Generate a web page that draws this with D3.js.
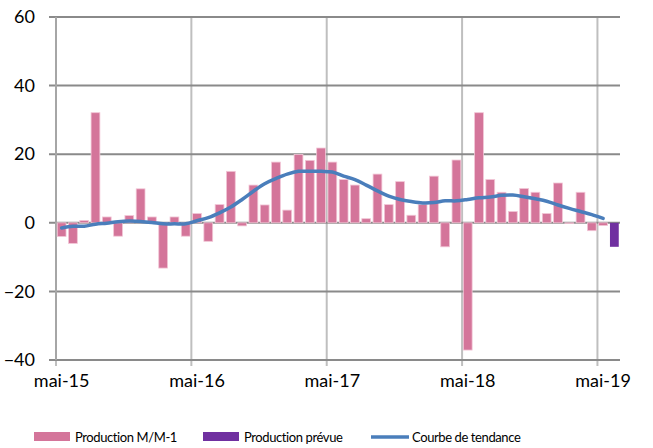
<!DOCTYPE html>
<html>
<head>
<meta charset="utf-8">
<script src="https://cdn.jsdelivr.net/npm/d3@7"></script>
<style>
  body { margin: 0; background: #fff; }
  text { font-family: Lato, "Open Sans", sans-serif; fill: #000; }
</style>
</head>
<body>
<svg id="chart"></svg>
<script>
const width = 653;
const height = 448;

// months from mai-15 to juin-19
const monthNames = ["janv", "févr", "mars", "avr", "mai", "juin", "juil", "août", "sept", "oct", "nov", "déc"];
const months = d3.range(50).map(i => {
  const m = (4 + i) % 12;
  const y = 15 + Math.floor((4 + i) / 12);
  return monthNames[m] + "-" + y;
});

// Production M/M-1 (mai-15 .. mai-19)
const production = [
  -4, -6, 0.7, 32.1, 1.7, -3.9, 2.1, 9.9, 1.7, -13.2, 1.7, -3.9,
  2.7, -5.4, 5.3, 15.0, -0.9, 11.0, 5.2, 17.7, 3.7, 19.9, 18.2, 21.8,
  17.7, 12.6, 11.0, 1.2, 14.2, 5.3, 12.0, 2.2, 5.3, 13.6, -7.0, 18.3,
  -37.1, 32.1, 12.6, 8.9, 3.3, 10.0, 8.9, 2.7, 11.6, -0.2, 8.9, -2.3,
  -0.8
];

// Production prévue (juin-19)
const forecast = [{ month: "juin-19", value: -7.0 }];

// Courbe de tendance
const trend = [
  -1.5, -1.0, -1.0, -0.4, -0.1, 0.3, 0.5, 0.4, 0.1, -0.3, -0.3, -0.3,
  0.6, 1.5, 2.9, 4.6, 6.8, 9.2, 11.4, 12.9, 14.2, 15.0, 15.0, 15.0,
  14.8, 13.6, 12.6, 11.0, 9.3, 7.8, 6.8, 6.2, 5.8, 5.9, 6.4, 6.4,
  6.8, 7.3, 7.5, 8.0, 8.1, 7.6, 7.0, 6.3, 5.2, 4.2, 3.3, 2.4,
  1.3
];

const yTicks = [-40, -20, 0, 20, 40, 60];
const xLabels = ["mai-15", "mai-16", "mai-17", "mai-18", "mai-19"];

const pink = "#d4759a";
const purple = "#7030a0";
const blue = "#4a7ebb";

const plot = { left: 56, right: 620, top: 17, bottom: 360 };

const svg = d3.select("#chart")
  .attr("width", width)
  .attr("height", height);

const x = d3.scaleBand()
  .domain(months)
  .range([plot.left, plot.right])
  .paddingInner(0.22)
  .paddingOuter(0.11);

const y = d3.scaleLinear()
  .domain([-40, 60])
  .range([plot.bottom, plot.top]);

const cellStart = m => x(m) - (x.step() - x.bandwidth()) / 2;

// vertical gridlines (one per year)
svg.append("g")
  .selectAll("line")
  .data(xLabels)
  .join("line")
  .attr("x1", d => cellStart(d))
  .attr("x2", d => cellStart(d))
  .attr("y1", plot.top)
  .attr("y2", plot.bottom + 6)
  .attr("stroke", "#bfbfbf")
  .attr("stroke-width", 2);

// horizontal gridlines
svg.append("g")
  .selectAll("line")
  .data(yTicks)
  .join("line")
  .attr("x1", plot.left - 7)
  .attr("x2", plot.right)
  .attr("y1", d => y(d))
  .attr("y2", d => y(d))
  .attr("stroke", "#8a8a8a")
  .attr("stroke-width", 2);

// left axis line
svg.append("line")
  .attr("x1", plot.left).attr("x2", plot.left)
  .attr("y1", plot.top).attr("y2", plot.bottom)
  .attr("stroke", "#a6a6a6")
  .attr("stroke-width", 2);

// Y axis labels
const yAxis = d3.axisLeft(y).tickValues(yTicks).tickSize(0).tickPadding(21);
svg.append("g")
  .attr("transform", `translate(${plot.left}, 0)`)
  .call(yAxis)
  .call(g => g.select(".domain").remove())
  .selectAll("text")
  .style("font-family", "Lato, sans-serif")
  .attr("font-size", 18)
  .attr("fill", "#000");

// X axis labels
const xAxis = d3.axisBottom(x).tickValues(xLabels).tickSize(0).tickPadding(14);
svg.append("g")
  .attr("transform", `translate(0, ${plot.bottom})`)
  .call(xAxis)
  .call(g => g.select(".domain").remove())
  .selectAll("text")
  .style("font-family", "Lato, sans-serif")
  .attr("font-size", 18)
  .attr("fill", "#000");

// bars
svg.append("g")
  .selectAll("rect")
  .data(production)
  .join("rect")
  .attr("x", (d, i) => x(months[i]))
  .attr("y", d => y(Math.max(0, d)))
  .attr("width", x.bandwidth())
  .attr("height", d => Math.abs(y(d) - y(0)))
  .attr("fill", pink)
  .attr("stroke", "#f2c6d6")
  .attr("stroke-width", 0.8);

svg.append("g")
  .selectAll("rect")
  .data(forecast)
  .join("rect")
  .attr("x", d => x(d.month))
  .attr("y", d => y(Math.max(0, d.value)))
  .attr("width", x.bandwidth())
  .attr("height", d => Math.abs(y(d.value) - y(0)))
  .attr("fill", purple);

// trend line
const line = d3.line()
  .x((d, i) => x(months[i]) + x.bandwidth() / 2)
  .y(d => y(d))
  .curve(d3.curveCatmullRom);

svg.append("path")
  .datum(trend)
  .attr("d", line)
  .attr("fill", "none")
  .attr("stroke", blue)
  .attr("stroke-width", 3.5)
  .attr("stroke-linecap", "round");

// legend
const legend = svg.append("g").attr("transform", "translate(0, 437)");
const legendItems = [
  { label: "Production M/M-1", color: pink, type: "rect", x: 34 },
  { label: "Production prévue", color: purple, type: "rect", x: 203 },
  { label: "Courbe de tendance", color: blue, type: "line", x: 371 }
];

legendItems.forEach(item => {
  if (item.type === "rect") {
    legend.append("rect")
      .attr("x", item.x).attr("y", -5)
      .attr("width", 36).attr("height", 9)
      .attr("fill", item.color);
  } else {
    legend.append("line")
      .attr("x1", item.x).attr("x2", item.x + 38)
      .attr("y1", 0).attr("y2", 0)
      .attr("stroke", item.color)
      .attr("stroke-width", 3.5);
  }
  legend.append("text")
    .attr("x", item.x + 41)
    .attr("y", 5)
    .attr("font-size", 13)
    .attr("letter-spacing", -0.4)
    .text(item.label);
});
</script>
</body>
</html>
